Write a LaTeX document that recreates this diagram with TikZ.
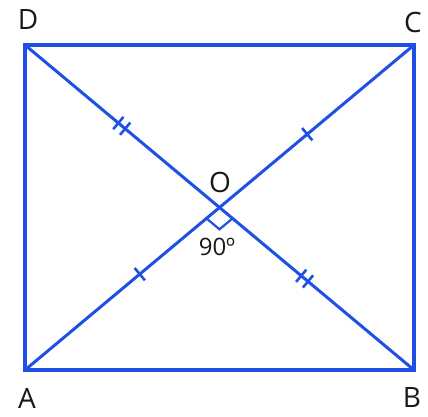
\documentclass[tikz,border=0pt]{standalone}
\usepackage{fontspec}
\setmainfont{Open Sans}
\usetikzlibrary{calc}
\definecolor{lineblue}{RGB}{30,80,228}
\definecolor{txt}{RGB}{25,25,25}
\begin{document}
\begin{tikzpicture}[x=1pt,y=-1pt,
  side/.style={draw=lineblue,line width=4pt,line join=miter},
  diag/.style={draw=lineblue,line width=3pt},
  tickmark/.style={draw=lineblue,line width=2.6pt},
  lbl/.style={text=txt,font=\fontsize{28}{30}\selectfont,inner sep=0pt}]
\useasboundingbox (0,0) rectangle (428,417);
\coordinate (A) at (25,370);
\coordinate (B) at (414,370);
\coordinate (C) at (414,45);
\coordinate (D) at (25,45);
\coordinate (O) at (intersection of A--C and B--D);
\draw[side] (A) -- (B) -- (C) -- (D) -- cycle;
\draw[diag] (A) -- (C);
\draw[diag] (D) -- (B);
% right angle mark
\draw[tickmark,line width=2.2pt] ($(O)!17pt!(A)$) -- ($($(O)!17pt!(A)$)+($(O)!17pt!(B)$)-(O)$) -- ($(O)!17pt!(B)$);
% single ticks
\foreach \P/\t in {C/0.549,A/0.59}{
  \coordinate (M) at ($(\P)!\t!(O)$);
  \draw[tickmark] ($(M)!8pt!90:(O)$) -- ($(M)!8pt!-90:(O)$);
}
% double ticks
\foreach \P/\t in {D/0.48,D/0.515,B/0.545,B/0.58}{
  \coordinate (M) at ($(\P)!\t!(O)$);
  \draw[tickmark] ($(M)!8pt!90:(O)$) -- ($(M)!8pt!-90:(O)$);
}
\node[lbl] (lD) at (28,20) {D};
\node[lbl] (lC) at (413,23) {C};
\node[lbl] (lA) at (27,398) {A};
\node[lbl] (lB) at (412,398) {B};
\node[lbl] (lO) at (220,182) {O};
\node[lbl,font=\fontsize{24}{26}\selectfont] (l90) at (217,247) {90º};
\end{tikzpicture}
\end{document}
